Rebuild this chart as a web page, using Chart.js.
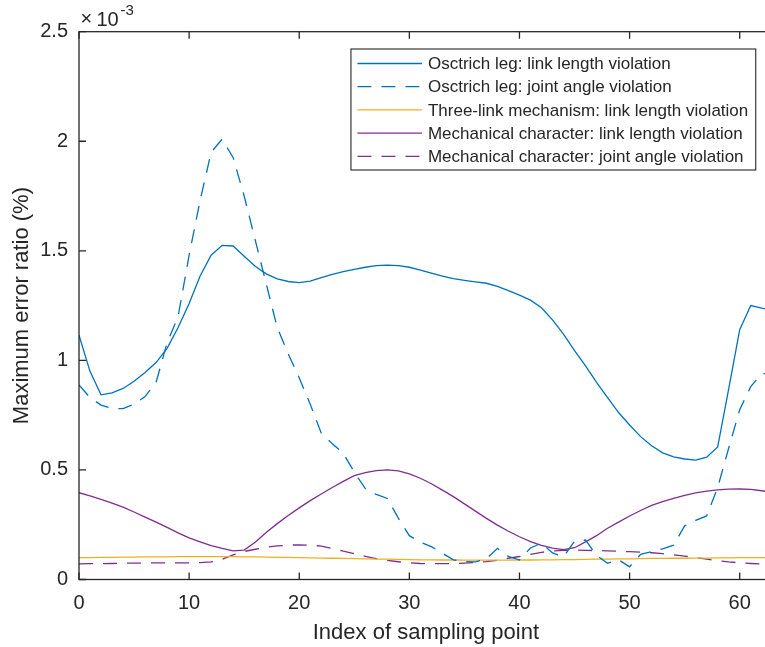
<!DOCTYPE html>
<html>
<head>
<meta charset="utf-8">
<script src="https://cdn.jsdelivr.net/npm/chart.js@4"></script>
<style>
  html, body { margin: 0; padding: 0; background: #fff; overflow: hidden; }
</style>
</head>
<body>
<canvas id="errChart" width="775" height="647"></canvas>
<script>
// index of sampling point (x axis)
const sampleIndex = [0, 1, 2, 3, 4, 5, 6, 7, 8, 9, 10, 11, 12, 13, 14, 15, 16, 17, 18, 19,
  20, 21, 22, 23, 24, 25, 26, 27, 28, 29, 30, 31, 32, 33, 34, 35, 36, 37, 38, 39,
  40, 41, 42, 43, 44, 45, 46, 47, 48, 49, 50, 51, 52, 53, 54, 55, 56, 57, 58, 59,
  60, 61, 62, 63];

// max error ratio, in units of 1e-3 %
const ostrichLinkLength = [1.115, 0.95, 0.843, 0.852, 0.872, 0.905, 0.945, 0.99, 1.055, 1.15,
  1.26, 1.385, 1.48, 1.525, 1.522, 1.475, 1.43, 1.395, 1.372, 1.36,
  1.355, 1.362, 1.378, 1.393, 1.405, 1.415, 1.425, 1.432, 1.435, 1.432,
  1.425, 1.412, 1.398, 1.385, 1.373, 1.365, 1.358, 1.352, 1.338, 1.318,
  1.298, 1.275, 1.24, 1.185, 1.12, 1.045, 0.975, 0.9, 0.83, 0.762,
  0.705, 0.652, 0.61, 0.578, 0.56, 0.55, 0.545, 0.558, 0.605, 0.87,
  1.14, 1.25, 1.238, 1.228];

const ostrichJointAngle = [0.888, 0.83, 0.796, 0.78, 0.78, 0.8, 0.835, 0.9, 1.08, 1.2,
  1.48, 1.73, 1.95, 2.01, 1.925, 1.75, 1.55, 1.35, 1.15, 1.03,
  0.92, 0.8, 0.668, 0.62, 0.576, 0.49, 0.415, 0.388, 0.37, 0.28,
  0.2, 0.17, 0.15, 0.12, 0.09, 0.082, 0.08, 0.095, 0.142, 0.105,
  0.089, 0.144, 0.166, 0.121, 0.104, 0.175, 0.18, 0.11, 0.074, 0.09,
  0.058, 0.115, 0.127, 0.14, 0.157, 0.245, 0.27, 0.29, 0.42, 0.6,
  0.775, 0.88, 0.94, 0.94];

const threeLinkLength = [0.1, 0.1, 0.101, 0.101, 0.102, 0.102, 0.103, 0.103, 0.103, 0.104,
  0.104, 0.104, 0.104, 0.104, 0.104, 0.103, 0.103, 0.102, 0.101, 0.101,
  0.1, 0.099, 0.098, 0.097, 0.096, 0.095, 0.094, 0.093, 0.093, 0.092,
  0.091, 0.09, 0.09, 0.089, 0.089, 0.088, 0.088, 0.088, 0.088, 0.088,
  0.089, 0.089, 0.09, 0.09, 0.091, 0.091, 0.092, 0.093, 0.093, 0.094,
  0.094, 0.095, 0.096, 0.096, 0.097, 0.097, 0.098, 0.098, 0.099, 0.099,
  0.1, 0.1, 0.1, 0.1];

const mechLinkLength = [0.396, 0.382, 0.366, 0.349, 0.33, 0.308, 0.285, 0.262, 0.238, 0.213,
  0.19, 0.172, 0.155, 0.142, 0.131, 0.134, 0.17, 0.214, 0.255, 0.292,
  0.327, 0.36, 0.39, 0.42, 0.448, 0.474, 0.488, 0.497, 0.5, 0.496,
  0.482, 0.462, 0.437, 0.408, 0.378, 0.345, 0.312, 0.279, 0.248, 0.22,
  0.195, 0.173, 0.156, 0.143, 0.136, 0.145, 0.172, 0.2, 0.234, 0.262,
  0.29, 0.315, 0.338, 0.355, 0.37, 0.384, 0.395, 0.403, 0.409, 0.412,
  0.413, 0.411, 0.405, 0.398];

const mechJointAngle = [0.071, 0.072, 0.072, 0.073, 0.074, 0.075, 0.075, 0.076, 0.076, 0.076,
  0.076, 0.077, 0.08, 0.092, 0.112, 0.128, 0.138, 0.147, 0.153, 0.157,
  0.158, 0.157, 0.152, 0.142, 0.13, 0.118, 0.106, 0.095, 0.087, 0.081,
  0.076, 0.073, 0.072, 0.072, 0.073, 0.075, 0.078, 0.082, 0.088, 0.097,
  0.105, 0.115, 0.124, 0.13, 0.133, 0.134, 0.133, 0.132, 0.131, 0.129,
  0.127, 0.125, 0.122, 0.118, 0.113, 0.107, 0.1, 0.093, 0.086, 0.08,
  0.076, 0.073, 0.071, 0.07];

const seriesNames = [
  "Osctrich leg: link length violation",
  "Osctrich leg: joint angle violation",
  "Three-link mechanism: link length violation",
  "Mechanical character: link length violation",
  "Mechanical character: joint angle violation",
];

const xTicks = [0, 10, 20, 30, 40, 50, 60];

const FONT = "'Liberation Sans', Arial, Helvetica, sans-serif";
const AXIS_COLOR = "#262626";
const BLUE = "#0072BD";
const YELLOW = "#EDB120";
const PURPLE = "#7E2F8E";
const DASH = [14, 10];

function line(label, data, color, dashed) {
  return {
    label: label,
    data: data,
    borderColor: color,
    backgroundColor: color,
    borderWidth: 1.3,
    borderDash: dashed ? DASH : [],
    pointRadius: 0,
    tension: 0,
    fill: false,
  };
}

// MATLAB style box with inward ticks, exponent label and legend
const matlabAxes = {
  id: "matlabAxes",
  afterDatasetsDraw(chart) {
    const { ctx, chartArea: a, scales } = chart;
    const xs = scales.x, ys = scales.y;
    ctx.save();
    ctx.strokeStyle = AXIS_COLOR;
    ctx.lineWidth = 1.3;
    ctx.setLineDash([]);
    ctx.strokeRect(a.left, a.top, a.right - a.left, a.bottom - a.top);

    ctx.beginPath();
    xs.ticks.forEach(t => {
      const px = xs.getPixelForValue(t.value);
      ctx.moveTo(px, a.bottom); ctx.lineTo(px, a.bottom - 7);
      ctx.moveTo(px, a.top); ctx.lineTo(px, a.top + 7);
    });
    ys.ticks.forEach(t => {
      const py = ys.getPixelForValue(t.value);
      ctx.moveTo(a.left, py); ctx.lineTo(a.left + 7, py);
      ctx.moveTo(a.right, py); ctx.lineTo(a.right - 7, py);
    });
    ctx.stroke();

    // x10^-3
    ctx.fillStyle = AXIS_COLOR;
    ctx.textBaseline = "alphabetic";
    ctx.textAlign = "left";
    ctx.font = "20px " + FONT;
    ctx.fillText("\u00d7", 80.5, 25);
    ctx.fillText("10", 96.5, 25.5);
    ctx.font = "15px " + FONT;
    ctx.fillText("-3", 120.5, 15);

    // legend
    ctx.font = "17px " + FONT;
    const ds = chart.data.datasets;
    let maxW = 0;
    ds.forEach(d => { maxW = Math.max(maxW, ctx.measureText(d.label).width); });
    const rowH = 23.2;
    const boxW = 77 + maxW + 7.5;
    const boxH = 121;
    const right = a.right - 17;
    const top = a.top + 17.3;
    const left = right - boxW;
    ctx.fillStyle = "#fff";
    ctx.fillRect(left, top, boxW, boxH);
    ctx.lineWidth = 1.1;
    ctx.strokeStyle = AXIS_COLOR;
    ctx.strokeRect(left, top, boxW, boxH);
    ctx.textBaseline = "middle";
    ds.forEach((d, i) => {
      const y = top + 14.5 + i * rowH;
      ctx.strokeStyle = d.borderColor;
      ctx.lineWidth = d.borderWidth;
      ctx.setLineDash(d.borderDash || []);
      ctx.beginPath();
      ctx.moveTo(left + 6.5, y);
      ctx.lineTo(left + 71, y);
      ctx.stroke();
      ctx.setLineDash([]);
      ctx.fillStyle = AXIS_COLOR;
      ctx.fillText(d.label, left + 77, y + 1);
    });
    ctx.restore();
  },
};

const errCtx = document.getElementById("errChart").getContext("2d");

const errChart = new Chart(errCtx, {
  type: "line",
  data: {
    labels: sampleIndex,
    datasets: [
      line(seriesNames[0], ostrichLinkLength, BLUE, false),
      line(seriesNames[1], ostrichJointAngle, BLUE, true),
      line(seriesNames[2], threeLinkLength, YELLOW, false),
      line(seriesNames[3], mechLinkLength, PURPLE, false),
      line(seriesNames[4], mechJointAngle, PURPLE, true),
    ],
  },
  options: {
    responsive: false,
    animation: false,
    layout: { padding: { left: 0, top: 31.7, right: 2.25, bottom: 0 } },
    plugins: {
      legend: { display: false },
      tooltip: { enabled: false },
    },
    scales: {
      x: {
        type: "linear",
        min: 0,
        max: 63,
        grid: { display: false, drawTicks: false },
        border: { display: false },
        afterBuildTicks: (scale) => { scale.ticks = xTicks.map(v => ({ value: v })); },
        afterFit: (scale) => { scale.height = 67.5; },
        ticks: {
          padding: 12,
          color: AXIS_COLOR,
          font: { family: FONT, size: 20 },
          maxRotation: 0,
        },
        title: {
          display: true,
          text: "Index of sampling point",
          color: AXIS_COLOR,
          font: { family: FONT, size: 22 },
          padding: { top: 0, bottom: 1 },
        },
      },
      y: {
        min: 0,
        max: 2.5,
        grid: { display: false, drawTicks: false },
        border: { display: false },
        afterFit: (scale) => { scale.width = 79; },
        ticks: {
          stepSize: 0.5,
          padding: 11,
          color: AXIS_COLOR,
          font: { family: FONT, size: 20 },
          callback: (v) => String(v),
        },
        title: {
          display: true,
          text: "Maximum error ratio (%)",
          color: AXIS_COLOR,
          font: { family: FONT, size: 22 },
          padding: { top: 9, bottom: 0 },
        },
      },
    },
  },
  plugins: [matlabAxes],
});
</script>
</body>
</html>
